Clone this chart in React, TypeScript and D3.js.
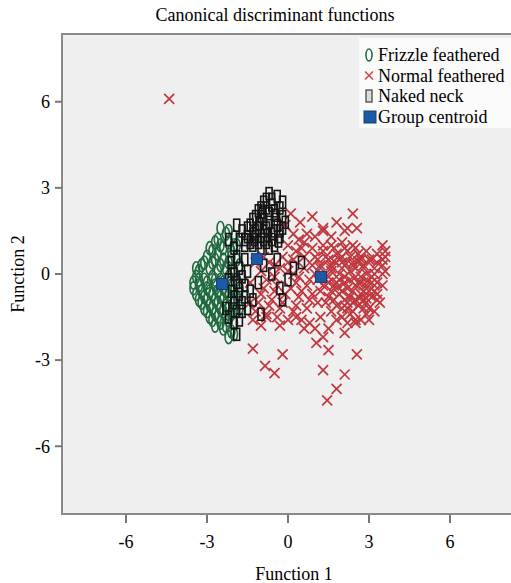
import React from 'react'
import { scaleLinear } from 'd3'

const W = 511
const H = 583

const xTicks = [-6, -3, 0, 3, 6]
const yTicks = [6, 3, 0, -3, -6]

// Function 1 / Function 2 scores
const frizzle: [number, number][] = [
  [-2.5, 1.6], [-2.3, 1.4], [-2.6, 1.2], [-2.2, 1.1], [-2.0, 1.3], [-2.4, 0.9], [-2.8, 0.8], [-2.1, 0.8], [-1.9, 1.0],
  [-3.0, 0.6], [-2.7, 0.5], [-2.4, 0.5], [-2.2, 0.4], [-1.9, 0.5], [-3.2, 0.3], [-2.9, 0.2], [-2.6, 0.1], [-2.3, 0.2],
  [-2.0, 0.1], [-1.8, 0.3], [-3.4, -0.1], [-3.1, -0.2], [-2.8, -0.1], [-2.5, -0.2], [-2.2, -0.1], [-1.9, -0.2],
  [-3.3, -0.4], [-3.0, -0.5], [-2.7, -0.4], [-2.4, -0.5], [-2.1, -0.4], [-1.8, -0.5], [-3.4, -0.7], [-3.1, -0.8],
  [-2.8, -0.7], [-2.5, -0.8], [-2.2, -0.7], [-1.9, -0.8], [-3.2, -1.0], [-2.9, -1.1], [-2.6, -1.0], [-2.3, -1.1],
  [-2.0, -1.0], [-3.0, -1.3], [-2.7, -1.4], [-2.4, -1.3], [-2.1, -1.4], [-2.8, -1.6], [-2.5, -1.7], [-2.2, -1.6],
  [-2.4, -1.9], [-2.1, -2.0], [-2.6, 0.7], [-3.3, 0.1], [-3.5, -0.3], [-2.0, -1.7], [-1.8, -1.2],
  [-2.9, 0.9], [-2.5, 1.0], [-2.2, 1.5], [-2.7, 1.1], [-3.1, 0.4], [-2.8, 0.4], [-2.5, 0.3], [-2.1, 0.6],
  [-3.3, -0.2], [-3.0, -0.3], [-2.7, -0.2], [-2.4, -0.3], [-2.1, -0.2], [-3.2, -0.6], [-2.9, -0.6], [-2.6, -0.6],
  [-2.3, -0.6], [-2.0, -0.6], [-3.3, -0.9], [-3.0, -0.9], [-2.7, -0.9], [-2.4, -0.9], [-2.1, -0.9], [-3.1, -1.2],
  [-2.8, -1.2], [-2.5, -1.2], [-2.2, -1.2], [-2.9, -1.5], [-2.6, -1.5], [-2.3, -1.5], [-2.0, -1.3], [-2.3, -1.8],
  [-2.7, -1.8], [-2.0, -2.1], [-2.2, -2.2], [-3.5, -0.5], [-3.4, 0.2], [-2.0, 1.0],
]

const normal: [number, number][] = [
  [-4.4, 6.1],
  [1.4, 0.6], [1.8, 0.7], [2.2, 0.8], [2.6, 0.7], [3.0, 0.5], [1.2, 0.3], [1.6, 0.3], [2.0, 0.4], [2.4, 0.4],
  [2.8, 0.3], [3.2, 0.2], [1.0, 0.0], [1.5, -0.1], [1.9, 0.0], [2.3, 0.1], [2.7, -0.1], [3.1, -0.1], [3.5, 0.0],
  [1.3, -0.4], [1.7, -0.4], [2.1, -0.3], [2.5, -0.4], [2.9, -0.4], [3.3, -0.3], [1.5, -0.8], [1.9, -0.7],
  [2.3, -0.8], [2.7, -0.7], [3.1, -0.8], [1.8, -1.1], [2.2, -1.2], [2.6, -1.1], [3.0, -1.2], [3.4, -1.0],
  [2.0, -1.5], [2.5, -1.6], [2.9, -1.4], [1.6, 1.0], [2.0, 1.1], [2.4, 1.0],
  [1.6, 0.1], [2.1, -0.1], [2.5, 0.2], [2.9, 0.0], [1.8, -0.3], [2.2, -0.5], [2.6, -0.3], [3.0, -0.6], [2.0, 0.6],
  [2.4, -1.0], [2.8, -0.9], [1.4, -0.2], [3.3, 0.4], [2.7, 0.5],
  [1.3, 0.8], [1.7, 0.9], [2.1, 0.9], [2.5, 0.9], [2.9, 0.8], [3.3, 0.7], [1.1, 0.5], [1.5, 0.5], [1.9, 0.5],
  [2.3, 0.6], [2.7, 0.6], [3.1, 0.5], [3.5, 0.5], [1.2, 0.2], [1.6, 0.2], [2.0, 0.2], [2.4, 0.3], [2.8, 0.2],
  [3.2, 0.0], [3.6, 0.1], [1.1, -0.2], [1.5, -0.3], [1.9, -0.2], [2.3, -0.2], [2.7, -0.3], [3.1, -0.3], [3.5, -0.4],
  [1.2, -0.6], [1.6, -0.6], [2.0, -0.6], [2.4, -0.6], [2.8, -0.6], [3.2, -0.6], [1.4, -1.0], [1.7, -0.9],
  [2.1, -0.9], [2.5, -0.9], [2.9, -1.0], [3.3, -0.9], [1.6, -1.3], [2.0, -1.2], [2.4, -1.3], [2.8, -1.2],
  [3.2, -1.3], [1.8, -1.6], [2.2, -1.7], [2.7, -1.6], [3.0, -1.6], [2.3, -1.4],
  [1.7, 0.45], [2.15, 0.35], [2.6, 0.45], [1.85, -0.45], [2.45, -0.15], [2.95, -0.25], [2.2, -1.0], [2.65, -0.85],
  [0.1, 2.1], [0.45, 1.8], [1.3, 1.6], [2.2, 1.6], [2.4, 2.1], [2.55, 1.6], [2.1, 1.5], [1.3, 1.5], [0.4, 1.2],
  [3.5, 1.0], [3.6, 0.8], [3.6, 0.6], [3.5, 0.3], [3.3, -0.7], [2.9, -0.85],
  [0.0, 1.0], [0.3, 0.8], [0.6, 1.1], [0.9, 0.9], [-0.2, 0.6], [0.2, 0.5], [0.6, 0.6], [0.9, 0.3], [-0.5, 0.3],
  [0.0, 0.1], [0.4, -0.1], [0.8, -0.2], [-0.8, -0.2], [-0.4, -0.4], [0.1, -0.5], [0.5, -0.6], [0.9, -0.7],
  [-1.0, -0.7], [-0.6, -0.9], [-0.2, -1.0], [0.3, -1.1], [0.7, -1.2], [1.1, -1.0], [-1.2, -1.3], [-0.8, -1.4],
  [-0.4, -1.5], [0.0, -1.6], [0.5, -1.6], [1.2, -1.5], [-1.4, -0.3], [-1.2, 0.4], [-0.9, 0.6], [-1.4, -1.0],
  [1.3, 1.0], [1.0, 1.3], [-0.8, -1.5], [0.3, -1.5], [0.8, -1.7],
  [-0.7, 0.4], [-0.3, 0.2], [0.2, 0.0], [0.6, 0.2], [1.0, 0.6], [-1.0, 0.1], [-0.5, -0.1], [0.3, -0.3],
  [0.7, -0.4], [-0.9, -0.5], [-0.1, -0.7], [0.4, -0.8], [0.8, -0.9], [-0.7, -1.1], [-0.3, -1.2], [0.2, -1.3],
  [-1.1, -1.0], [-0.5, -0.6], [0.0, 0.4], [0.5, 0.9], [0.7, 1.4], [0.2, 1.4], [-0.1, 1.7], [0.9, 2.0],
  [1.6, 1.3], [1.8, 1.8], [-1.3, -1.6], [-1.0, -1.8], [-0.3, -1.8], [0.6, -1.9], [1.0, -1.9], [1.5, -1.9],
  [-1.3, -2.6], [-0.2, -2.8], [-0.85, -3.2], [-0.5, -3.45], [1.3, -3.35], [2.1, -3.5], [1.8, -4.0], [1.45, -4.4],
  [2.55, -2.8], [1.5, -2.65], [1.05, -2.4], [1.3, -2.2], [2.1, -2.05], [2.5, -1.7],
]

const naked: [number, number][] = [
  [-0.8, 2.6], [-0.4, 2.7], [-0.6, 2.4], [-1.0, 2.3], [-0.3, 2.3], [-0.7, 2.1], [-1.2, 2.0], [-0.9, 1.9],
  [-0.5, 1.9], [-0.2, 2.0], [-1.4, 1.7], [-1.1, 1.6], [-0.8, 1.6], [-0.5, 1.5], [-0.2, 1.6], [-1.5, 1.3],
  [-1.2, 1.3], [-0.9, 1.2], [-0.6, 1.2], [-0.3, 1.3], [-1.3, 1.0], [-1.0, 0.9], [-0.7, 0.9], [-1.6, 1.0],
  [-1.7, 1.5], [-1.9, 1.7], [-1.8, 1.2],
  [-0.9, 2.5], [-0.6, 2.6], [-1.1, 2.2], [-0.8, 2.3], [-0.5, 2.2], [-1.3, 1.9], [-1.0, 2.0], [-0.7, 1.8],
  [-0.4, 1.7], [-1.5, 1.6], [-1.2, 1.5], [-0.9, 1.5], [-0.6, 1.4], [-0.3, 1.5], [-1.4, 1.1], [-1.1, 1.1],
  [-0.8, 1.1], [-0.5, 1.0], [-1.6, 1.2], [-1.3, 1.4], [-0.1, 1.8], [-0.2, 2.5], [-0.7, 2.8],
  [-1.05, 1.75], [-0.75, 1.35], [-0.45, 2.05], [-1.25, 1.2], [-0.95, 2.15], [-0.35, 1.15],
  [-2.0, 0.9], [-1.9, 0.6], [-2.1, 0.4], [-1.8, 0.2], [-2.0, 0.0], [-1.7, -0.1], [-1.9, -0.3], [-2.1, -0.6],
  [-1.8, -0.7], [-2.0, -1.0], [-1.7, -1.0], [-1.9, -1.3], [-2.2, -1.5], [-1.8, -1.6], [-1.6, -0.4], [-1.5, 0.1],
  [-1.4, -0.6], [-1.5, -1.2], [-1.3, -0.9], [-1.9, -2.1], [-2.3, -1.2],
  [-2.2, 1.2], [-2.1, 0.1], [-1.8, -0.4], [-2.0, -0.8], [-1.7, -1.3], [-2.0, -1.7], [-1.6, -0.8], [-1.6, 0.5],
  [-2.2, -0.2],
  [-0.4, 0.5], [0.5, 0.4], [0.0, -0.2], [-0.3, -0.5], [-0.9, 0.3], [-1.1, -0.3], [0.2, 0.2], [-0.6, 0.0],
  [-0.2, -0.9], [-1.0, -1.4],
]

const centroids: [number, number][] = [[-2.44, -0.35], [-1.15, 0.52], [1.22, -0.1]]

const legendLabels = ['Frizzle feathered', 'Normal feathered', 'Naked neck', 'Group centroid']

const red = '#b8161e'
const green = '#1f6a3e'
const dark = '#151515'
const blue = '#1c5aa6'

const x = scaleLinear().domain([-8.37, 8.37]).range([62, 514])
const y = scaleLinear().domain([-8.36, 8.36]).range([514, 34])

const xPath = 'M-5,-5L5,5M-5,5L5,-5'

export default function App() {
  const font = '"Liberation Serif", "Times New Roman", serif'
  const legendY = [55, 75.5, 96, 117]
  return (
    <svg width={W} height={H} style={{ position: 'absolute', left: 0, top: 0 }} fontFamily={font} fontSize={18}>
      <rect x={0} y={0} width={W} height={H} fill="#fff" />
      <text x={275} y={21} textAnchor="middle">Canonical discriminant functions</text>

      <rect x={x(-8.37)} y={y(8.36)} width={x(8.37) - x(-8.37)} height={y(-8.36) - y(8.36)} fill="#efefef" stroke="#8a8a8a" strokeWidth={2} />

      {yTicks.map(t => (
        <g key={'y' + t}>
          <line x1={55} x2={62} y1={y(t)} y2={y(t)} stroke="#777" strokeWidth={2} />
          <text x={50} y={y(t)} dy="0.35em" textAnchor="end">{t}</text>
        </g>
      ))}
      {xTicks.map(t => (
        <g key={'x' + t}>
          <line x1={x(t)} x2={x(t)} y1={515} y2={523} stroke="#777" strokeWidth={2} />
          <text x={x(t)} y={548} textAnchor="middle">{t}</text>
        </g>
      ))}
      <text x={294} y={580} textAnchor="middle">Function 1</text>
      <text transform={`translate(24,${y(0)}) rotate(-90)`} textAnchor="middle">Function 2</text>

      <g stroke={red} strokeWidth={1.7} opacity={0.85} fill="none">
        {normal.map((d, i) => (
          <path key={i} d={xPath} transform={`translate(${x(d[0])},${y(d[1])})`} />
        ))}
      </g>
      <g stroke={green} strokeWidth={1.6} fill="none">
        {frizzle.map((d, i) => (
          <ellipse key={i} cx={x(d[0])} cy={y(d[1])} rx={3.5} ry={6.5} />
        ))}
      </g>
      <g stroke={dark} strokeWidth={1.6} fill="none">
        {naked.map((d, i) => (
          <rect key={i} x={x(d[0]) - 3} y={y(d[1]) - 6} width={6} height={12} />
        ))}
      </g>
      <g fill={blue} stroke="#123e75" strokeWidth={1}>
        {centroids.map((d, i) => (
          <rect key={i} x={x(d[0]) - 5.5} y={y(d[1]) - 5.5} width={11} height={11} />
        ))}
      </g>

      <g>
        <rect x={359} y={38} width={152} height={90} fill="#fafafa" />
        <ellipse cx={369} cy={legendY[0]} rx={3} ry={6} fill="#fff" stroke={green} strokeWidth={1.6} />
        <path d={xPath} transform={`translate(369,${legendY[1]}) scale(0.8)`} stroke="#d04a4d" strokeWidth={2} fill="none" />
        <rect x={366} y={legendY[2] - 6} width={6} height={12} fill="#ddd" stroke="#555" strokeWidth={1.4} />
        <rect x={364} y={legendY[3] - 6} width={12} height={12} fill={blue} stroke="#123e75" strokeWidth={1} />
        {legendLabels.map((l, i) => (
          <text key={l} x={378} y={legendY[i]} dy="0.35em">{l}</text>
        ))}
      </g>
    </svg>
  )
}
